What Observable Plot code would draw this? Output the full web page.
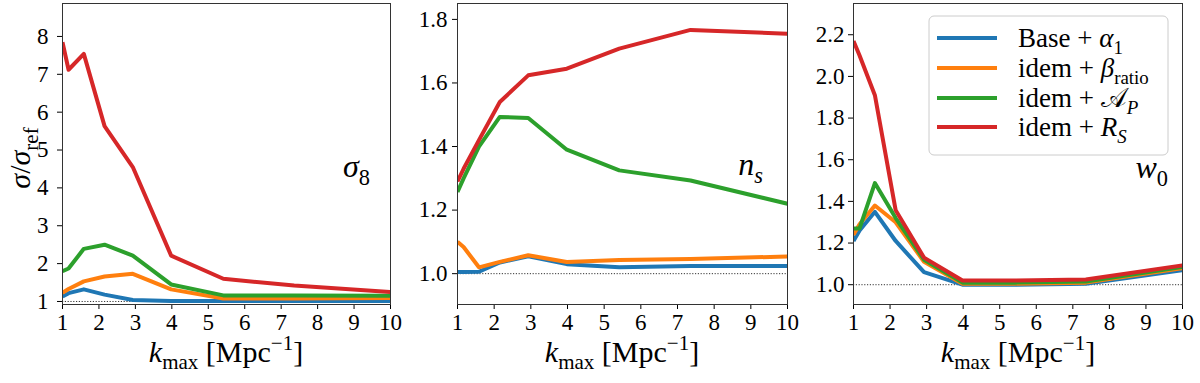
<!DOCTYPE html>
<html><head><meta charset="utf-8">
<script src="https://cdn.jsdelivr.net/npm/d3@7"></script>
<script src="https://cdn.jsdelivr.net/npm/@observablehq/plot@0.6"></script>
</head><body style="margin:0;background:#fff">
<div style="position:relative;width:1200px;height:383px;font-family:'Liberation Serif';">
<div id="row" style="position:absolute;left:0;top:0;width:1200px;height:383px;display:flex"></div>
<div style="position:absolute;left:126px;width:200px;top:337px;text-align:center;font-size:30px;line-height:30px;white-space:nowrap"><i>k</i><span style="font-size:21px;position:relative;top:7px">max</span> [Mpc<span style="font-size:21px;position:relative;top:-12px">−1</span>]</div>
<div style="position:absolute;left:522px;width:200px;top:337px;text-align:center;font-size:30px;line-height:30px;white-space:nowrap"><i>k</i><span style="font-size:21px;position:relative;top:7px">max</span> [Mpc<span style="font-size:21px;position:relative;top:-12px">−1</span>]</div>
<div style="position:absolute;left:918px;width:200px;top:337px;text-align:center;font-size:30px;line-height:30px;white-space:nowrap"><i>k</i><span style="font-size:21px;position:relative;top:7px">max</span> [Mpc<span style="font-size:21px;position:relative;top:-12px">−1</span>]</div>
</div>
<script>
// ---- data ----
const kmax = [1, 1.166, 1.585, 2.154, 2.929, 3.981, 5.412, 7.356, 10];
const seriesKeys = ["base", "beta", "ap", "rs"];
const seriesColors = ["#1f77b4", "#ff7f0e", "#2ca02c", "#d62728"];
const xTicks = [1, 2, 3, 4, 5, 6, 7, 8, 9, 10];

const sigma8_base = [1.13, 1.22, 1.32, 1.18, 1.04, 1.01, 1.01, 1.01, 1.01];
const sigma8_beta = [1.23, 1.33, 1.53, 1.66, 1.73, 1.32, 1.08, 1.08, 1.09];
const sigma8_ap   = [1.80, 1.87, 2.39, 2.50, 2.21, 1.45, 1.16, 1.16, 1.15];
const sigma8_rs   = [7.85, 7.12, 7.54, 5.63, 4.55, 2.21, 1.60, 1.42, 1.25];

const ns_base = [1.005, 1.005, 1.006, 1.035, 1.055, 1.03, 1.02, 1.024, 1.024];
const ns_beta = [1.10, 1.084, 1.02, 1.037, 1.058, 1.037, 1.043, 1.046, 1.054];
const ns_ap   = [1.257, 1.30, 1.40, 1.493, 1.49, 1.39, 1.325, 1.293, 1.22];
const ns_rs   = [1.29, 1.33, 1.42, 1.54, 1.624, 1.645, 1.708, 1.767, 1.755];

const w0_base = [1.21, 1.26, 1.35, 1.21, 1.06, 1.0, 1.0, 1.005, 1.07];
const w0_beta = [1.24, 1.29, 1.38, 1.30, 1.11, 1.005, 1.005, 1.01, 1.08];
const w0_ap   = [1.27, 1.27, 1.488, 1.32, 1.12, 1.01, 1.01, 1.015, 1.085];
const w0_rs   = [2.17, 2.10, 1.91, 1.357, 1.13, 1.02, 1.02, 1.025, 1.093];

const sigma8Ticks = [1, 2, 3, 4, 5, 6, 7, 8];
const nsTicks = [1.0, 1.2, 1.4, 1.6, 1.8];
const w0Ticks = [1.0, 1.2, 1.4, 1.6, 1.8, 2.0, 2.2];

const legendLabels = [
  [{t:"Base + "}, {t:"α", it:true}, {t:"1", sub:true}],
  [{t:"idem + "}, {t:"β", it:true}, {t:"ratio", sub:true}],
  [{t:"idem + "}, {t:"𝒜"}, {t:"P", sub:true, it:true}],
  [{t:"idem + "}, {t:"R", it:true}, {t:"S", sub:true, it:true}]
];

const FONT = "Liberation Serif";

function rows(arrs) {
  const out = [];
  arrs.forEach((a, i) => a.forEach((v, j) => out.push({k: kmax[j], v, s: seriesKeys[i]})));
  return out;
}

function rich(svg, x, y, parts, {size = 28, anchor = "middle", rotate = 0} = {}) {
  const t = d3.select(svg).append("text")
    .attr("transform", `translate(${x},${y}) rotate(${rotate})`)
    .attr("text-anchor", anchor)
    .attr("font-family", FONT)
    .attr("font-size", size)
    .attr("fill", "#000");
  let cur = 0;
  for (const p of parts) {
    const shift = p.sub ? size * 0.25 : p.sup ? -size * 0.42 : 0;
    t.append("tspan")
      .attr("dy", shift - cur)
      .attr("font-size", (p.sub || p.sup) ? size * 0.7 : size)
      .attr("font-style", p.it ? "italic" : "normal")
      .text(p.t);
    cur = shift;
  }
  return t;
}

function panel({data, domain, ticks, fmt, ml, mr, tp}) {
  return Plot.plot({
    width: 400, height: 383,
    marginLeft: ml, marginRight: mr, marginTop: 3, marginBottom: 79,
    style: {fontFamily: FONT, fontSize: "23px"},
    x: {domain: [1, 10], ticks: xTicks, tickSize: 5, tickPadding: 4, label: null},
    y: {domain, ticks, tickFormat: fmt, tickSize: 5, tickPadding: tp, label: null},
    color: {domain: seriesKeys, range: seriesColors},
    marks: [
      Plot.ruleY([1], {stroke: "#000", strokeWidth: 0.8, strokeDasharray: "1.2,1.6"}),
      Plot.line(data, {x: "k", y: "v", z: "s", stroke: "s", strokeWidth: 4, clip: true, strokeLinecap: "butt", strokeLinejoin: "round"}),
      Plot.frame({stroke: "#333", strokeWidth: 1})
    ]
  });
}

const row = document.getElementById("row");

const p1 = panel({data: rows([sigma8_base, sigma8_beta, sigma8_ap, sigma8_rs]), domain: [0.92, 8.87], ticks: sigma8Ticks, fmt: d3.format("d"), ml: 62, mr: 10, tp: 9});
const p2 = panel({data: rows([ns_base, ns_beta, ns_ap, ns_rs]), domain: [0.903, 1.85], ticks: nsTicks, fmt: d3.format(".1f"), ml: 57, mr: 13, tp: 5});
const p3 = panel({data: rows([w0_base, w0_beta, w0_ap, w0_rs]), domain: [0.905, 2.35], ticks: w0Ticks, fmt: d3.format(".1f"), ml: 53, mr: 18, tp: 4});
for (const p of [p1, p2, p3]) { p.style.flex = "none"; p.style.overflow = "visible"; }
row.append(p1, p2, p3);

rich(p1, 30, 158, [{t:"σ", it:true}, {t:"/"}, {t:"σ", it:true}, {t:"ref", sub:true}], {size: 30, rotate: -90});

rich(p1, 370, 177, [{t:"σ", it:true}, {t:"8", sub:true}], {size: 32, anchor: "end"});
rich(p2, 363, 175, [{t:"n", it:true}, {t:"s", sub:true, it:true}], {size: 32, anchor: "end"});
rich(p3, 368, 178, [{t:"w", it:true}, {t:"0", sub:true}], {size: 32, anchor: "end"});

const g = d3.select(p3).append("g");
g.append("rect").attr("x", 129).attr("y", 16).attr("width", 239).attr("height", 139)
  .attr("rx", 5).attr("fill", "white").attr("fill-opacity", 0.8).attr("stroke", "#ccc").attr("stroke-width", 1);
const rowY = [38, 68, 98, 127];
legendLabels.forEach((parts, i) => {
  g.append("line").attr("x1", 137).attr("x2", 197).attr("y1", rowY[i]).attr("y2", rowY[i])
    .attr("stroke", seriesColors[i]).attr("stroke-width", 4);
  rich(p3, 218, rowY[i] + 9, parts, {size: 27, anchor: "start"});
});
</script>
</body></html>
